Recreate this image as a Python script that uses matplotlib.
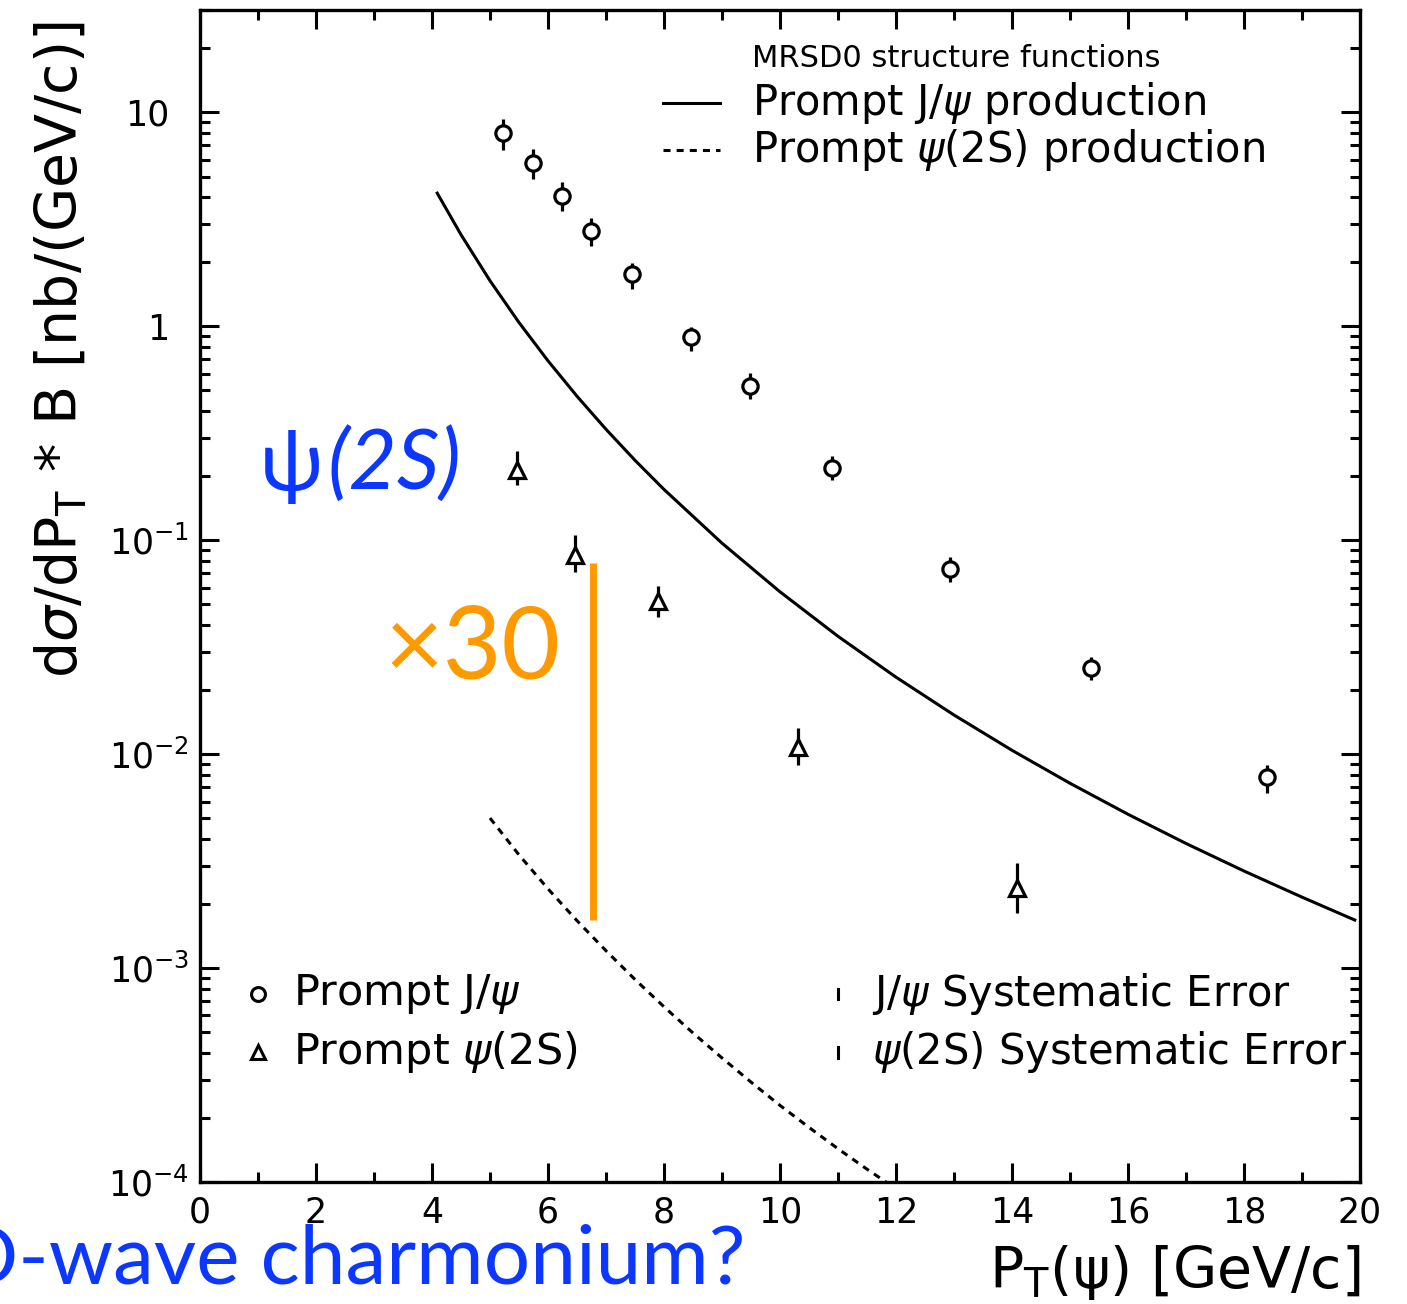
import numpy as np
import matplotlib
matplotlib.use("Agg")
import matplotlib.pyplot as plt
from matplotlib.ticker import FixedLocator, LogLocator, NullFormatter
from matplotlib.transforms import ScaledTranslation

plt.rcParams['font.family'] = ['DejaVu Sans']
plt.rcParams['mathtext.fontset'] = 'dejavusans'

# prompt J/psi data (pT, cross section, upper/lower error bar ends)
jpsi_pt = [5.22, 5.74, 6.24, 6.74, 7.45, 8.47, 9.48, 10.90, 12.93, 15.36, 18.40]
jpsi_xs = [7.98, 5.78, 4.05, 2.78, 1.75, 0.888, 0.525, 0.217, 0.0732, 0.0252, 0.00781]
jpsi_hi = [9.27, 6.71, 4.71, 3.20, 1.97, 0.989, 0.603, 0.247, 0.0833, 0.0284, 0.00889]
jpsi_lo = [6.64, 4.86, 3.44, 2.37, 1.49, 0.764, 0.456, 0.1907, 0.0637, 0.0222, 0.00657]

# prompt psi(2S) data
psi2s_pt = [5.47, 6.47, 7.90, 10.31, 14.09]
psi2s_xs = [0.212, 0.0851, 0.0519, 0.01079, 0.00237]
psi2s_hi = [0.261, 0.1054, 0.0610, 0.0132, 0.0031]
psi2s_lo = [0.181, 0.0708, 0.0436, 0.00889, 0.00181]

# theory curves (MRSD0)
th_jpsi_pt = [4.09, 4.5, 5, 5.5, 6, 6.5, 7, 7.5, 8, 9, 10, 11, 12, 13, 14, 15, 16, 17, 18, 19, 19.91]
th_jpsi_xs = [4.18, 2.674, 1.629, 1.039, 0.688, 0.470, 0.3294, 0.2359, 0.1724, 0.0967, 0.0573,
              0.0355, 0.02287, 0.01522, 0.01041, 0.00730, 0.00523, 0.00382, 0.00284, 0.002144, 0.001676]
th_psi2s_pt = [5.0, 5.5, 6, 6.5, 7, 7.5, 8, 8.5, 9, 9.5, 10, 10.5, 11, 11.5, 11.9]
th_psi2s_xs = [5.02e-3, 3.379e-3, 2.344e-3, 1.664e-3, 1.204e-3, 8.84e-4, 6.59e-4, 4.97e-4,
               3.80e-4, 2.93e-4, 2.28e-4, 1.80e-4, 1.430e-4, 1.148e-4, 9.70e-5]

# "x30" gap marker
gap_pt = 6.78
gap_range = [0.0782, 0.001675]

BLUE = '#0b37ff'
ORANGE = '#ff9900'
GILL = ['Lato', 'Noto Sans']

fig = plt.figure(figsize=(14.07, 13.04), dpi=100)
ax = fig.add_axes([200/1407, 1-1182/1304, 1160/1407, 1172/1304])

ax.plot(th_jpsi_pt, th_jpsi_xs, color='black', lw=2.2)
ax.plot(th_psi2s_pt, th_psi2s_xs, color='black', lw=2.2, ls=(0, (2.3, 2.0)))

ax.errorbar(jpsi_pt, jpsi_xs,
            yerr=[np.subtract(jpsi_xs, jpsi_lo), np.subtract(jpsi_hi, jpsi_xs)],
            fmt='o', ms=11, mfc='white', mec='black', mew=2.3,
            ecolor='black', elinewidth=2.3, capsize=0, zorder=3)
ax.errorbar(psi2s_pt, psi2s_xs,
            yerr=[np.subtract(psi2s_xs, psi2s_lo), np.subtract(psi2s_hi, psi2s_xs)],
            fmt='^', ms=12, mfc='white', mec='black', mew=2.3,
            ecolor='black', elinewidth=2.3, capsize=0, zorder=3)

ax.plot([gap_pt, gap_pt], gap_range, color=ORANGE, lw=5, solid_capstyle='butt')

ax.set_yscale('log')
ax.set_xlim(0, 20)
ax.set_ylim(1e-4, 30)

ax.set_xticks(range(0, 21, 2))
ax.set_xticklabels([str(v) for v in range(0, 21, 2)])
ax.xaxis.set_minor_locator(FixedLocator(range(0, 21)))
ax.set_yticks([1e-4, 1e-3, 1e-2, 1e-1, 1, 10])
ax.set_yticklabels([r'$10^{-4}$', r'$10^{-3}$', r'$10^{-2}$', r'$10^{-1}$', '1', '10'])
ax.yaxis.set_minor_locator(LogLocator(base=10, subs=np.arange(2, 10)))
ax.yaxis.set_minor_formatter(NullFormatter())

ax.tick_params(which='both', direction='in', top=True, right=True, width=2.2, colors='black')
ax.tick_params(which='major', length=14, labelsize=25)
ax.tick_params(which='minor', length=7)
ax.tick_params(axis='x', pad=10)
ax.tick_params(axis='y', pad=8)
for sp in ax.spines.values():
    sp.set_linewidth(2.4)

# plain "1" and "10" sit further left, like the exponent labels' mantissa
shift = ScaledTranslation(-20/100, 0, fig.dpi_scale_trans)
for lbl in ax.get_yticklabels()[4:]:
    lbl.set_transform(lbl.get_transform() + shift)

# top legend
ax.text(0.476, 0.959, 'MRSD0 structure functions', transform=ax.transAxes,
        fontsize=22, va='center', ha='left')
ax.plot([0.399, 0.448], [0.9206, 0.9206], transform=ax.transAxes, color='black', lw=2.2)
ax.plot([0.399, 0.448], [0.8805, 0.8805], transform=ax.transAxes, color='black', lw=2.2,
        ls=(0, (2.3, 2.0)))
ax.text(0.476, 0.9206, r'Prompt J/$\psi$ production', transform=ax.transAxes,
        fontsize=30, va='center', ha='left')
ax.text(0.476, 0.8805, r'Prompt $\psi$(2S) production', transform=ax.transAxes,
        fontsize=30, va='center', ha='left')

# bottom legends
ax.plot([0.05], [0.1604], 'o', ms=10, mfc='white', mec='black', mew=2.2, transform=ax.transAxes)
ax.plot([0.05], [0.1109], '^', ms=10, mfc='white', mec='black', mew=2.2, transform=ax.transAxes)
ax.text(0.080, 0.1604, r'Prompt J/$\psi$', transform=ax.transAxes, fontsize=31, va='center')
ax.text(0.080, 0.1109, r'Prompt $\psi$(2S)', transform=ax.transAxes, fontsize=31, va='center')
ax.plot([0.55, 0.55], [0.156, 0.165], transform=ax.transAxes, color='black', lw=2.2)
ax.plot([0.55, 0.55], [0.106, 0.115], transform=ax.transAxes, color='black', lw=2.2)
ax.text(0.579, 0.1604, r'J/$\psi$ Systematic Error', transform=ax.transAxes, fontsize=30, va='center')
ax.text(0.579, 0.1109, r'$\psi$(2S) Systematic Error', transform=ax.transAxes, fontsize=30, va='center')

# axis labels
fig.text(62/1407, 1-350/1304, r'd$\sigma$/dP$_\mathrm{T}$ $*$ B [nb/(GeV/c)]',
         rotation=90, fontsize=41, ha='center', va='center')
fig.text(1360/1407, 1-1272/1304, r'P$_\mathrm{T}$($\mathrm{\psi}$) [GeV/c]',
         fontsize=41, ha='right', va='center')

# annotations
ax.text(0.0517, 0.5905, 'ψ', transform=ax.transAxes, color=BLUE, fontsize=60,
        family=GILL, va='baseline', ha='left')
ax.text(0.1103, 0.5905, '(2S)', transform=ax.transAxes, color=BLUE, fontsize=60,
        style='italic', family=GILL, va='baseline', ha='left')
ax.text(0.159, 0.430, '×30', transform=ax.transAxes, color=ORANGE, fontsize=73,
        family=GILL, va='baseline', ha='left')
fig.text(745/1407, 1-1283/1304, 'D-wave charmonium?', color=BLUE, fontsize=59,
         family=GILL, ha='right', va='baseline')

fig.savefig('out.png', dpi=100)
